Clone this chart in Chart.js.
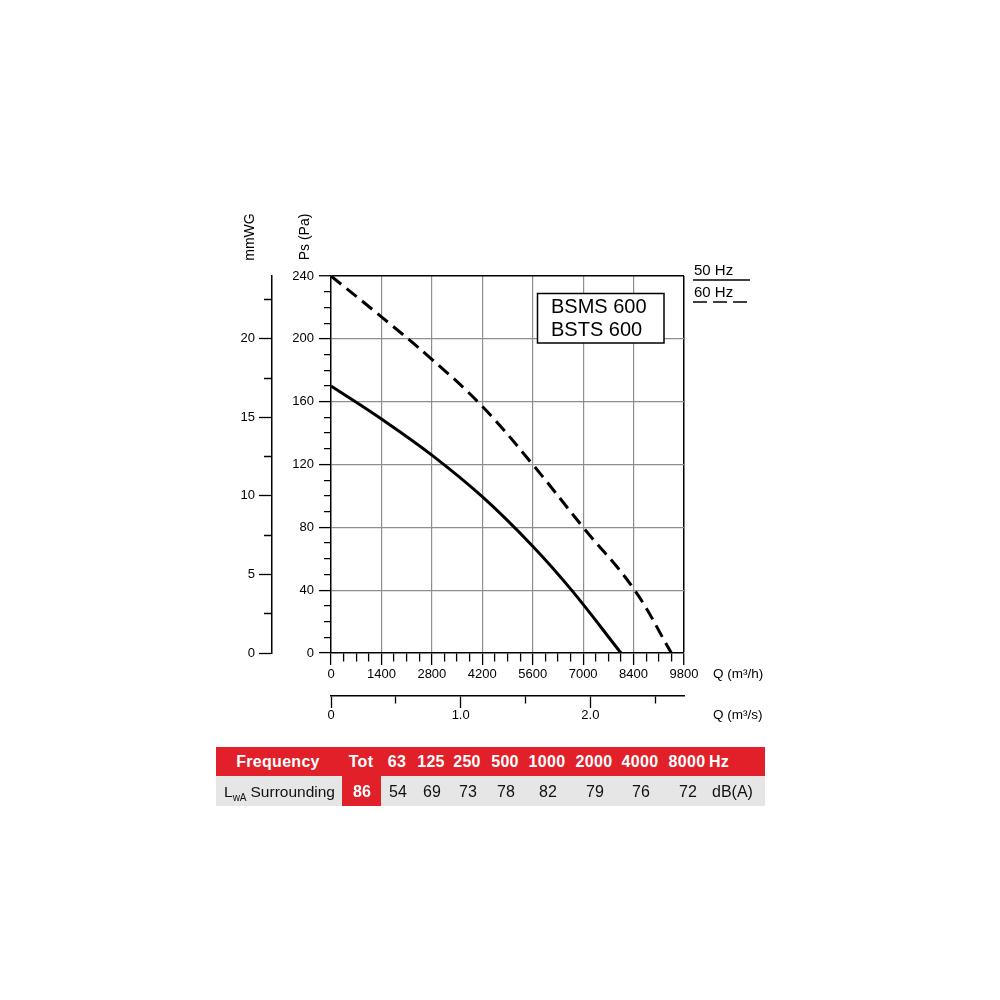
<!DOCTYPE html>
<html>
<head>
<meta charset="utf-8">
<script src="https://cdn.jsdelivr.net/npm/chart.js@4.4.1/dist/chart.umd.min.js"></script>
<style>
  body { margin: 0; background: #fff; }
  #wrap { position: absolute; left: 0; top: 0; width: 1000px; height: 1000px; }
  #tbl { position: absolute; left: 216px; top: 747px; width: 549px; height: 59px;
         font-family: "Liberation Sans", Arial, sans-serif; font-size: 15.5px; }
  #tbl .row1 { position: absolute; left: 0; top: 0; width: 549px; height: 29px; background: #e2202a; }
  #tbl .row2 { position: absolute; left: 0; top: 29px; width: 549px; height: 30px; background: #e6e6e6; }
  #tbl .tot { position: absolute; left: 126px; top: 29px; width: 39px; height: 30px; background: #e2202a; }
  #tbl span { position: absolute; white-space: nowrap; transform: translateX(-50%); }
  #tbl .h { color: #fff; font-weight: bold; font-size: 16px; top: 0; line-height: 29px; letter-spacing: 0.3px; }
  #tbl .v { color: #111; top: 29px; line-height: 31px; }
</style>
</head>
<body>
<div id="wrap"><canvas id="fanChart"></canvas></div>
<div id="tbl">
  <div class="row1"></div>
  <div class="row2"></div>
  <div class="tot"></div>
</div>
<script>
// fan curves, Q in m3/h, Ps in Pa
const seriesNames = ['50 Hz', '60 Hz'];
const flow50 = [0, 1400, 2800, 4200, 5600, 6680, 8050];
const press50 = [170, 149, 126, 99.5, 68, 40, 0];
const flow60 = [0, 1400, 2800, 4200, 5600, 7000, 8400, 9450];
const press60 = [240, 214, 187, 157, 120, 80, 41, 0];

// axis ticks
const flowMajor = [0, 1400, 2800, 4200, 5600, 7000, 8400, 9800];
const pressMajor = [0, 40, 80, 120, 160, 200, 240];
const mmMajor = [0, 5, 10, 15, 20];
const secMajor = [0, 1, 2];
const modelNames = ['BSMS 600', 'BSTS 600'];

// sound table
const bandLabels = ['Tot', '63', '125', '250', '500', '1000', '2000', '4000', '8000'];
const soundValues = ['86', '54', '69', '73', '78', '82', '79', '76', '72'];

const FONT = '"Liberation Sans", Arial, sans-serif';
const gridGray = '#8e8e8e';
const clear = 'rgba(0,0,0,0)';

// minor ticks between the labelled ones
const flowTicks = [];
for (let v = 0; v <= 9800; v += 350) flowTicks.push(v);
const pressTicks = [];
for (let v = 0; v <= 240; v += 10) pressTicks.push(v);
const mmTicks = [];
for (let v = 0; v <= 22.5; v += 2.5) mmTicks.push(v);
const secTicks = [0, 0.5, 1, 1.5, 2, 2.5];

const toPoints = (xs, ys) => xs.map((x, i) => ({x: x, y: ys[i]}));
const isMajor = (list, c) => c.tick && list.includes(c.tick.value);

const chartDecor = {
  id: 'chartDecor',
  afterDraw(chart) {
    const ctx = chart.ctx;
    const area = chart.chartArea;
    const mm = chart.scales.mm;
    const y = chart.scales.y;
    ctx.save();
    ctx.fillStyle = '#000';
    ctx.strokeStyle = '#000';

    // rotated axis titles
    ctx.font = '14px ' + FONT;
    ctx.textAlign = 'center';
    ctx.textBaseline = 'middle';
    [[mm.right - 22, 'mmWG'], [y.right - 26, 'Ps (Pa)']].forEach(([x, t]) => {
      ctx.save();
      ctx.translate(x, area.top - 39);
      ctx.rotate(-Math.PI / 2);
      ctx.fillText(t, 0, 0);
      ctx.restore();
    });

    // flow titles on the right
    ctx.font = '13.5px ' + FONT;
    ctx.textAlign = 'left';
    ctx.fillText('Q (m³/h)', area.right + 29, area.bottom + 21);
    ctx.fillText('Q (m³/s)', area.right + 29, area.bottom + 62);

    // legend with underlines
    ctx.font = '15px ' + FONT;
    chart.data.datasets.forEach((ds, i) => {
      const ty = area.top - 5 + i * 22;
      ctx.fillText(ds.label, area.right + 10, ty);
      ctx.beginPath();
      ctx.lineWidth = 1.5;
      ctx.setLineDash(i === 0 ? [] : [14, 6]);
      ctx.moveTo(area.right + 9, ty + 9);
      ctx.lineTo(area.right + 66, ty + 9);
      ctx.stroke();
    });
    ctx.setLineDash([]);

    // model box
    ctx.fillStyle = '#fff';
    ctx.fillRect(537.5, 293.5, 126.5, 49.5);
    ctx.lineWidth = 1.5;
    ctx.strokeRect(537.5, 293.5, 126.5, 49.5);
    ctx.fillStyle = '#000';
    ctx.font = '20px ' + FONT;
    ctx.textBaseline = 'alphabetic';
    modelNames.forEach((n, i) => ctx.fillText(n, 551, 313 + i * 22.5));
    ctx.restore();
  }
};

new Chart(document.getElementById('fanChart'), {
  type: 'line',
  data: {
    datasets: [{
      label: seriesNames[0],
      data: toPoints(flow50, press50),
      borderColor: '#000',
      borderWidth: 3,
      pointRadius: 0,
      tension: 0.4
    }, {
      label: seriesNames[1],
      data: toPoints(flow60, press60),
      borderColor: '#000',
      borderWidth: 3,
      borderDash: [13, 7],
      pointRadius: 0,
      tension: 0.4
    }]
  },
  options: {
    responsive: true,
    maintainAspectRatio: false,
    animation: false,
    layout: { padding: { left: 212, right: 316, top: 276, bottom: 264 } },
    plugins: { legend: { display: false }, tooltip: { enabled: false } },
    scales: {
      x: {
        type: 'linear', position: 'bottom', weight: 0, min: 0, max: 9800,
        afterBuildTicks: s => { s.ticks = flowTicks.map(v => ({value: v})); },
        afterFit: s => { s.height = 43; },
        border: { color: '#000', width: 1.5 },
        grid: {
          color: c => !c.tick ? clear : c.tick.value === 9800 ? '#000' : (c.tick.value > 0 && isMajor(flowMajor, c) ? gridGray : clear),
          lineWidth: c => c.tick && c.tick.value === 9800 ? 1.5 : 1.2,
          tickColor: '#000', tickWidth: 1.3, tickLength: 12,
          tickBorderDash: c => isMajor(flowMajor, c) ? [] : [8, 50]
        },
        ticks: {
          autoSkip: false, minRotation: 0, maxRotation: 0, padding: 2, color: '#000',
          font: { family: FONT, size: 13 },
          callback: v => flowMajor.includes(v) ? String(v) : ''
        }
      },
      q: {
        type: 'linear', position: 'bottom', weight: 1, min: 0, max: 9800 / 3600,
        afterBuildTicks: s => { s.ticks = secTicks.map(v => ({value: v})); },
        afterFit: s => { s.height = 40; },
        border: { color: '#000', width: 1.5 },
        grid: {
          drawOnChartArea: false,
          tickColor: '#000', tickWidth: 1.3, tickLength: 12,
          tickBorderDash: c => isMajor(secMajor, c) ? [] : [7, 50]
        },
        ticks: {
          autoSkip: false, minRotation: 0, maxRotation: 0, padding: 0, color: '#000',
          font: { family: FONT, size: 13 },
          callback: v => secMajor.includes(v) ? (v === 0 ? '0' : v.toFixed(1)) : ''
        }
      },
      y: {
        type: 'linear', position: 'left', weight: 0, min: 0, max: 240,
        afterBuildTicks: s => { s.ticks = pressTicks.map(v => ({value: v})); },
        afterFit: s => { s.width = 59; },
        border: { color: '#000', width: 1.5 },
        grid: {
          color: c => !c.tick ? clear : c.tick.value === 240 ? '#000' : (c.tick.value > 0 && isMajor(pressMajor, c) ? gridGray : clear),
          lineWidth: c => c.tick && c.tick.value === 240 ? 1.5 : 1.2,
          tickColor: '#000', tickWidth: 1.3, tickLength: 12,
          tickBorderDash: c => isMajor(pressMajor, c) ? [] : [0, 5, 7, 50]
        },
        ticks: {
          autoSkip: false, padding: 5, color: '#000',
          font: { family: FONT, size: 13 },
          callback: v => pressMajor.includes(v) ? String(v) : ''
        }
      },
      mm: {
        type: 'linear', position: 'left', weight: 1, min: 0, max: 24,
        afterBuildTicks: s => { s.ticks = mmTicks.map(v => ({value: v})); },
        afterFit: s => { s.width = 60; },
        border: { color: '#000', width: 1.5 },
        grid: {
          drawOnChartArea: false,
          tickColor: '#000', tickWidth: 1.3, tickLength: 13,
          tickBorderDash: c => isMajor(mmMajor, c) ? [] : [0, 5, 8, 50]
        },
        ticks: {
          autoSkip: false, padding: 4, color: '#000',
          font: { family: FONT, size: 13 },
          callback: v => mmMajor.includes(v) ? String(v) : ''
        }
      }
    }
  },
  plugins: [chartDecor]
});

// sound power table
const tbl = document.getElementById('tbl');
const colX = [361, 397, 431, 467, 505, 547, 594, 640, 687];
function addText(cls, text, x, extra) {
  const s = document.createElement('span');
  s.className = cls;
  s.textContent = text;
  s.style.left = (x - 216) + 'px';
  if (extra) Object.assign(s.style, extra);
  tbl.appendChild(s);
  return s;
}
addText('h', 'Frequency', 278);
bandLabels.forEach((b, i) => addText('h', b, colX[i]));
addText('h', 'Hz', 709, { transform: 'none' });
soundValues.forEach((v, i) => addText('v', v, colX[i] + 1,
  i === 0 ? { color: '#fff', fontWeight: 'bold', fontSize: '16px' } : { fontSize: '16px' }));
addText('v', 'dB(A)', 712, { transform: 'none', fontSize: '16px' });
const lwa = addText('v', '', 224, { transform: 'none' });
lwa.innerHTML = 'L<sub style="font-size:10px;vertical-align:-4px;margin-right:4px">wA</sub>Surrounding';
</script>
</body>
</html>
